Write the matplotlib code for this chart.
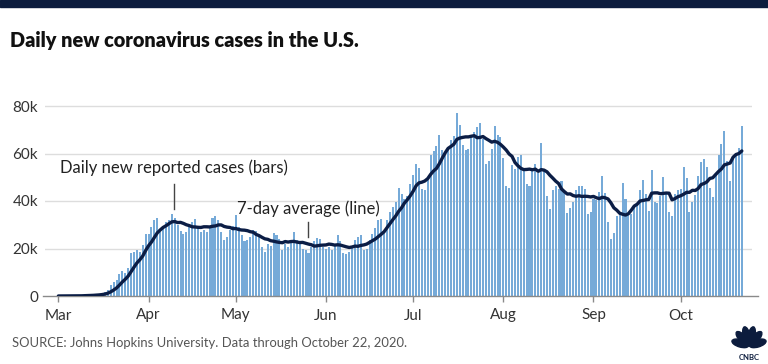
import numpy as np
import pandas as pd
import matplotlib

matplotlib.use("Agg")

import matplotlib.pyplot as plt
from matplotlib.patches import Rectangle, Ellipse


# daily new cases, Mar 1 - Oct 22, 2020
mar = [10, 20, 25, 35, 60, 70, 100, 120, 180, 290,
       270, 440, 550, 680, 780, 1200, 1800, 2700, 4600, 5700,
       6900, 9200, 10500, 9800, 12000, 18000, 18500, 19500, 18500, 21500,
       26000]
apr = [26000, 29000, 32000, 33000, 27000, 29000, 31000, 32000, 34500, 33000,
       30000, 27500, 26000, 27000, 29500, 31000, 32500, 29000, 27000, 28000,
       27000, 29000, 33000, 33500, 32000, 27000, 23500, 25000, 28000, 29500]
may = [34000, 29000, 25500, 23000, 23500, 25000, 28000, 27500, 25500, 20500,
       18500, 22000, 21000, 26500, 25500, 24000, 19500, 22000, 20500, 22500,
       27000, 23500, 22500, 20000, 19500, 18000, 20500, 23000, 24500, 24000,
       20500]
jun = [20000, 20500, 19500, 21000, 25500, 23000, 18000, 17500, 18500, 21000,
       23500, 25000, 25500, 19500, 20000, 23500, 26000, 28500, 32000, 32500,
       27000, 32000, 35500, 37500, 39500, 45500, 43000, 41000, 42000, 47000]
jul = [51000, 55500, 54000, 45000, 44500, 49000, 59500, 61000, 63000, 68000,
       61500, 60000, 62000, 65500, 67500, 77000, 72000, 63500, 61500, 62000,
       67500, 69000, 71000, 73000, 66000, 55500, 57000, 62000, 71500, 68000,
       67000]
aug = [58000, 46500, 45500, 55000, 53500, 58500, 59500, 54000, 47000, 46500,
       53000, 55500, 52000, 64500, 52500, 42000, 36500, 44500, 46500, 45000,
       48500, 44500, 35000, 37000, 39500, 44500, 46500, 46500, 45000, 34500,
       35500]
sep = [41000, 40500, 44000, 50500, 43500, 31000, 24000, 26500, 33500, 35000,
       47500, 41000, 35000, 34500, 38500, 39000, 44500, 49000, 43000, 36000,
       53000, 39500, 39000, 42000, 50000, 44000, 35500, 33500, 43000, 44500]
oct_ = [45000, 54500, 49500, 35500, 39500, 42500, 50500, 56500, 57500, 54500,
        45500, 41500, 52000, 59500, 64000, 69500, 57000, 48500, 58500, 60000,
        62500, 71500]

cases = mar + apr + may + jun + jul + aug + sep + oct_
dates = pd.date_range("2020-03-01", periods=len(cases), freq="D")

y_ticks = [0, 20000, 40000, 60000, 80000]
y_labels = ["0", "20k", "40k", "60k", "80k"]

TITLE = "Daily new coronavirus cases in the U.S."
SOURCE = "SOURCE: Johns Hopkins University. Data through October 22, 2020."

BAR_COLOR = "#76aad8"
LINE_COLOR = "#0b1d45"
NAVY = "#0c1c3d"
TEXT_DARK = "#222222"
TEXT_GRAY = "#555555"

plt.rcParams["font.family"] = ["Lato", "DejaVu Sans"]

df = pd.DataFrame({"date": dates, "cases": cases})
df["avg7"] = df["cases"].rolling(7, min_periods=1).mean()
days = np.arange(len(df))

fig = plt.figure(figsize=(7.68, 3.64), dpi=100)
ax = fig.add_axes([45 / 768, 68 / 364, 707 / 768, 199.5 / 364])

for yv in y_ticks[1:]:
    ax.axhline(yv, color="#dddddd", linewidth=1, zorder=0)
ax.axhline(0, xmin=-0.003, xmax=1.008, color="#8a8a8a", linewidth=1,
           zorder=3, clip_on=False)

ax.bar(days, df["cases"], width=0.7, color=BAR_COLOR, linewidth=0, zorder=1)
ax.plot(days, df["avg7"], color=LINE_COLOR, linewidth=2.4,
        solid_capstyle="round", zorder=4)

ax.set_xlim(-4.6, 238.5)
ax.set_ylim(0, 84000)

month_idx = [i for i, d in enumerate(df["date"]) if d.day == 1]
month_lab = [df["date"][i].strftime("%b") for i in month_idx]
ax.set_xticks(month_idx)
ax.set_xticklabels(month_lab)
ax.set_yticks(y_ticks)
ax.set_yticklabels(y_labels)

ax.tick_params(axis="x", length=4, width=1, color="#8a8a8a", pad=5,
               labelsize=11, labelcolor="#333333")
ax.tick_params(axis="y", length=0, pad=5, labelsize=11,
               labelcolor="#333333")
for side in ["top", "right", "left", "bottom"]:
    ax.spines[side].set_visible(False)

# annotations
ax.text(39.8, 53900, "Daily new reported cases (bars)", ha="center",
        va="center", fontsize=12, color=TEXT_DARK, zorder=5)
ax.plot([39.8, 39.8], [36600, 47200], color="#444444", linewidth=1, zorder=5)
ax.text(86, 36800, "7-day average (line)", ha="center", va="center",
        fontsize=12, color=TEXT_DARK, zorder=5)
ax.plot([86, 86], [25000, 31300], color="#444444", linewidth=1, zorder=5)

# header band and title
fig.add_artist(Rectangle((0, 1 - 7 / 364), 1, 7 / 364,
                         transform=fig.transFigure, color=NAVY, zorder=10))
fig.text(10 / 768, 1 - 41 / 364, TITLE, fontsize=14.3, fontweight="heavy",
         color="#111111", ha="left", va="center")
fig.text(12 / 768, 1 - 343 / 364, SOURCE, fontsize=9.4, color=TEXT_GRAY,
         ha="left", va="center")

# small peacock mark, bottom right
logo = fig.add_axes([731 / 768, 2 / 364, 36 / 768, 38 / 364])
logo.set_xlim(-1.1, 1.1)
logo.set_ylim(-0.85, 1.3)
logo.axis("off")
for ang in np.linspace(15, 165, 6):
    r = np.deg2rad(ang)
    logo.add_patch(Ellipse((0.55 * np.cos(r), 0.05 + 0.6 * np.sin(r)),
                           1.05, 0.42, angle=ang, color=NAVY))
logo.text(0, -0.6, "CNBC", ha="center", va="center", fontsize=5.5,
          fontweight="bold", color=NAVY)

fig.savefig("out.png", dpi=100)
